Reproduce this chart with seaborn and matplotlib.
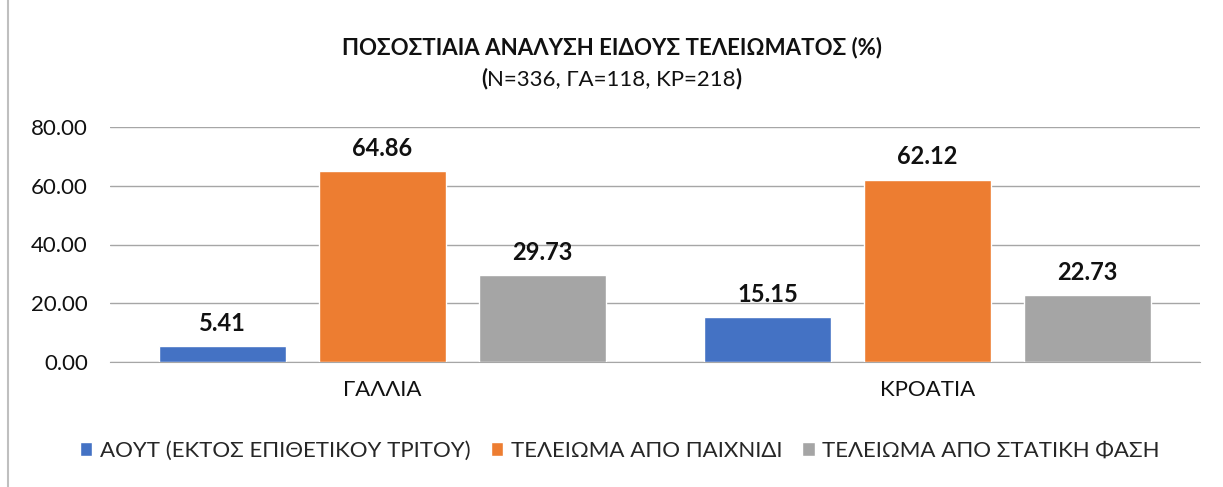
import pandas as pd
import matplotlib
matplotlib.use("Agg")
import matplotlib.pyplot as plt
import seaborn as sb

countries = ["ΓΑΛΛΙΑ", "ΚΡΟΑΤΙΑ"]
series = ["ΑΟΥΤ (ΕΚΤΟΣ ΕΠΙΘΕΤΙΚΟΥ ΤΡΙΤΟΥ)", "ΤΕΛΕΙΩΜΑ ΑΠΟ ΠΑΙΧΝΙΔΙ", "ΤΕΛΕΙΩΜΑ ΑΠΟ ΣΤΑΤΙΚΗ ΦΑΣΗ"]
out_vals = [5.41, 15.15]
play_vals = [64.86, 62.12]
setpiece_vals = [29.73, 22.73]
yticks = [0, 20, 40, 60, 80]
colors = ["#4472C4", "#ED7D31", "#A5A5A5"]

rows = []
for name, vals in zip(series, [out_vals, play_vals, setpiece_vals]):
    for c, v in zip(countries, vals):
        rows.append({"country": c, "type": name, "value": v})
df = pd.DataFrame(rows)

sb.set_style("white")
plt.rcParams['font.family'] = ['Lato', 'DejaVu Sans']

fig = plt.figure(figsize=(12.23, 4.87), dpi=100)
ax = fig.add_axes([110 / 1223, 1 - 362 / 487, 1090 / 1223, 235 / 487])

sb.barplot(data=df, x="country", y="value", hue="type", palette=colors,
           saturation=1, width=0.88, gap=0.21, ax=ax, zorder=3)

for cont in ax.containers:
    ax.bar_label(cont, fmt="%.2f", padding=8, fontsize=17, fontweight="bold",
                 color="#111111")

ax.set_ylim(0, 80)
ax.set_xlim(-0.5, 1.5)
ax.set_yticks(yticks)
ax.set_yticklabels(["%.2f" % t for t in yticks])
ax.yaxis.grid(True, color="#A6A6A6", linewidth=1, zorder=0)
ax.tick_params(axis="y", labelsize=16, pad=16, length=0, colors="#111111")
ax.tick_params(axis="x", labelsize=16, pad=13, length=0, colors="#111111")
for s in ["top", "right", "left"]:
    ax.spines[s].set_visible(False)
ax.spines["bottom"].set_color("#A6A6A6")
ax.set_xlabel("")
ax.set_ylabel("")

ax.legend(loc="center", bbox_to_anchor=(620 / 1223, 1 - 451 / 487),
          bbox_transform=fig.transFigure, ncol=3, frameon=False, fontsize=16,
          handlelength=0.55, handleheight=0.55, handletextpad=0.35, columnspacing=0.9)

fig.text(0.5, 1 - 48 / 487, "ΠΟΣΟΣΤΙΑΙΑ ΑΝΑΛΥΣΗ ΕΙΔΟΥΣ ΤΕΛΕΙΩΜΑΤΟΣ (%)",
         ha="center", va="center", fontsize=16, fontweight="bold", color="#111111")

# subtitle: bold brackets, normal text inside
sub_y = 1 - 79 / 487
mid = fig.text(0.5, sub_y, "N=336, ΓΑ=118, ΚΡ=218", ha="center", va="center",
               fontsize=16, color="#111111")
fig.canvas.draw()
bb = mid.get_window_extent().transformed(fig.transFigure.inverted())
fig.text(bb.x0, sub_y, "(", ha="right", va="center", fontsize=16,
         fontweight="bold", color="#111111")
fig.text(bb.x1, sub_y, ")", ha="left", va="center", fontsize=16,
         fontweight="bold", color="#111111")

fig.add_artist(plt.Line2D([8 / 1223, 8 / 1223], [0, 1], color="#BFBFBF",
                          linewidth=1.5, transform=fig.transFigure))

fig.savefig("out.png", dpi=100)
